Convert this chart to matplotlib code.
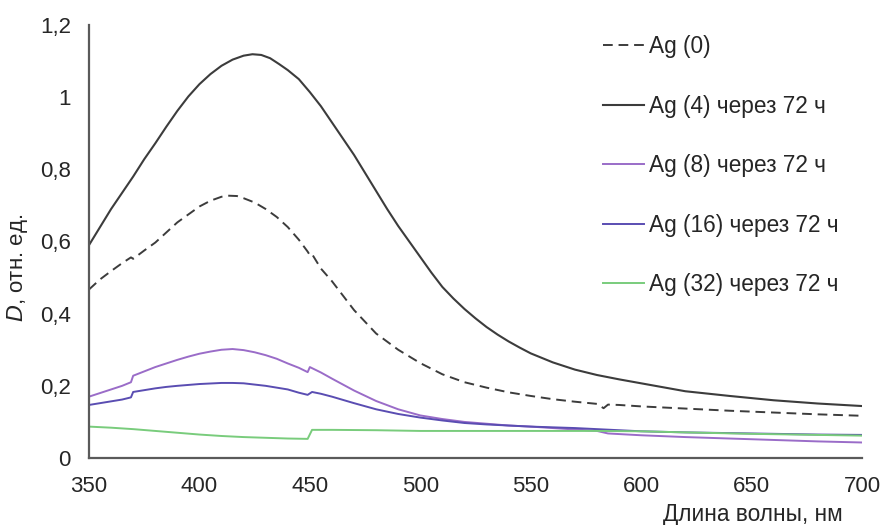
import matplotlib
matplotlib.use('Agg')
import matplotlib.pyplot as plt
from matplotlib.ticker import FuncFormatter

plt.rcParams['font.family'] = ['Liberation Sans', 'DejaVu Sans']

# Ag (0) - dashed
wl_0 = [350, 355, 360, 365, 369, 370, 375, 380, 385, 390, 395, 400, 405, 410, 413, 417,
        420, 425, 430, 435, 440, 445, 449, 450, 451, 455, 460, 470, 480, 490, 500, 510,
        520, 530, 540, 550, 560, 570, 580, 583, 585, 590, 600, 620, 640, 660, 680, 700]
d_0 = [0.467, 0.495, 0.518, 0.54, 0.556, 0.552, 0.575, 0.597, 0.625, 0.653, 0.675, 0.697,
       0.713, 0.724, 0.727, 0.726, 0.72, 0.708, 0.69, 0.668, 0.64, 0.605, 0.572, 0.562,
       0.565, 0.525, 0.49, 0.41, 0.345, 0.30, 0.263, 0.232, 0.21, 0.195, 0.182, 0.172,
       0.163, 0.156, 0.150, 0.138, 0.148, 0.147, 0.143, 0.137, 0.131, 0.126, 0.121, 0.117]

# Ag (4) через 72 ч
wl_4 = [350, 355, 360, 365, 370, 375, 380, 385, 390, 395, 400, 405, 410, 415, 420, 424,
        428, 432, 436, 440, 445, 450, 455, 460, 465, 470, 475, 480, 485, 490, 495, 500,
        505, 510, 515, 520, 525, 530, 535, 540, 545, 550, 560, 570, 580, 590, 600, 620,
        640, 660, 680, 700]
d_4 = [0.59, 0.64, 0.69, 0.735, 0.78, 0.828, 0.872, 0.918, 0.962, 1.002, 1.036, 1.064,
       1.087, 1.104, 1.115, 1.119, 1.117, 1.108, 1.092, 1.075, 1.05, 1.014, 0.975, 0.93,
       0.885, 0.84, 0.79, 0.74, 0.69, 0.643, 0.6, 0.557, 0.514, 0.474, 0.442, 0.413,
       0.387, 0.363, 0.342, 0.323, 0.306, 0.29, 0.265, 0.245, 0.23, 0.218, 0.207, 0.185,
       0.172, 0.16, 0.151, 0.144]

# Ag (8) через 72 ч
wl_8 = [350, 355, 360, 365, 369, 370, 375, 380, 385, 390, 395, 400, 405, 410, 415, 420,
        425, 430, 435, 440, 445, 449, 450, 455, 460, 470, 480, 490, 500, 510, 520, 530,
        540, 550, 560, 570, 580, 585, 600, 620, 640, 660, 680, 700]
d_8 = [0.17, 0.18, 0.19, 0.20, 0.21, 0.228, 0.24, 0.252, 0.262, 0.272, 0.281, 0.289,
       0.295, 0.30, 0.302, 0.299, 0.293, 0.285, 0.275, 0.262, 0.25, 0.238, 0.252, 0.237,
       0.22, 0.187, 0.158, 0.135, 0.118, 0.108, 0.10, 0.095, 0.09, 0.087, 0.083, 0.079,
       0.075, 0.068, 0.063, 0.058, 0.054, 0.05, 0.046, 0.043]

# Ag (16) через 72 ч
wl_16 = [350, 355, 360, 365, 369, 370, 375, 380, 385, 390, 400, 410, 415, 420, 430, 440,
         445, 449, 451, 455, 460, 470, 480, 490, 500, 510, 520, 530, 540, 550, 560, 570,
         580, 590, 600, 620, 640, 660, 680, 700]
d_16 = [0.147, 0.152, 0.157, 0.162, 0.168, 0.183, 0.188, 0.193, 0.197, 0.200, 0.205,
        0.208, 0.208, 0.207, 0.200, 0.19, 0.181, 0.175, 0.183, 0.178, 0.17, 0.152, 0.135,
        0.122, 0.112, 0.104, 0.097, 0.093, 0.09, 0.087, 0.085, 0.083, 0.08, 0.077, 0.074,
        0.071, 0.069, 0.067, 0.065, 0.064]

# Ag (32) через 72 ч
wl_32 = [350, 360, 370, 380, 390, 400, 410, 420, 430, 440, 449, 451, 460, 480, 500, 520,
         550, 580, 600, 620, 650, 680, 700]
d_32 = [0.087, 0.084, 0.08, 0.075, 0.07, 0.065, 0.061, 0.058, 0.056, 0.054, 0.053, 0.078,
        0.078, 0.077, 0.075, 0.075, 0.075, 0.075, 0.074, 0.071, 0.067, 0.064, 0.062]

fig = plt.figure(figsize=(8.83, 5.25), dpi=100)
ax = fig.add_axes([89 / 883, 67 / 525, 773 / 883, 433 / 525])

ax.plot(wl_0, d_0, color='#3c3c3c', lw=1.4, linestyle=(0, (5, 3)), label='Ag (0)')
ax.plot(wl_4, d_4, color='#3c3c3c', lw=1.5, label='Ag (4) через 72 ч')
ax.plot(wl_8, d_8, color='#9a6cc8', lw=1.4, label='Ag (8) через 72 ч')
ax.plot(wl_16, d_16, color='#5a4db2', lw=1.4, label='Ag (16) через 72 ч')
ax.plot(wl_32, d_32, color='#79cc7c', lw=1.4, label='Ag (32) через 72 ч')

ax.set_xlim(350, 700)
ax.set_ylim(0, 1.2)
ax.set_xticks([350, 400, 450, 500, 550, 600, 650, 700])
ax.set_yticks([0, 0.2, 0.4, 0.6, 0.8, 1.0, 1.2])
ax.yaxis.set_major_formatter(FuncFormatter(lambda v, p: f'{v:g}'.replace('.', ',')))
ax.tick_params(length=0, labelsize=16, colors='#262626')
ax.tick_params(axis='y', pad=13)
ax.tick_params(axis='x', pad=13)

for s in ['top', 'right']:
    ax.spines[s].set_visible(False)
for s in ['left', 'bottom']:
    ax.spines[s].set_color('#5a5a5a')
    ax.spines[s].set_linewidth(1.6)

fig.text(843 / 883, 1 - 515 / 525, 'Длина волны, нм', ha='right', va='center',
         fontsize=16.3, color='#262626')
fig.text(18 / 883, 1 - 268 / 525, '$\\it{D}$, отн. ед.', rotation=90, ha='center',
         va='center', fontsize=16, color='#262626')

ax.legend(loc='upper left', bbox_to_anchor=(592 / 883, 1 - 24 / 525),
          bbox_transform=fig.transFigure, frameon=False, fontsize=16.3,
          handlelength=1.8, handletextpad=0.2, labelspacing=1.61, borderpad=0,
          labelcolor='#262626')

fig.savefig('out.png', dpi=100)
